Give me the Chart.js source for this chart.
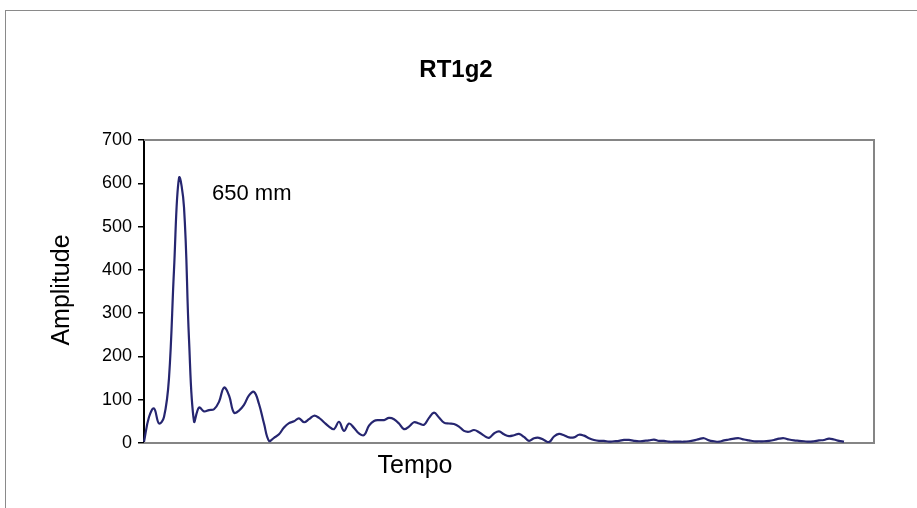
<!DOCTYPE html>
<html><head><meta charset="utf-8">
<script src="https://cdn.jsdelivr.net/npm/chart.js@4"></script>
<style>
html,body{margin:0;padding:0;background:#fff;}
#wrap{position:relative;width:917px;height:508px;overflow:hidden;}
#frame{position:absolute;left:5px;top:10px;width:920px;height:510px;border-left:1px solid #8a8a8a;border-top:1px solid #8a8a8a;}
canvas{position:absolute;left:0;top:0;}
</style></head><body>
<div id="wrap"><div id="frame"></div><canvas id="c" width="917" height="508"></canvas></div>
<script>
const chartTitle = 'RT1g2';
const xAxisTitle = 'Tempo';
const yAxisTitle = 'Amplitude';
const annotationText = '650 mm';
const yTicks = [0, 100, 200, 300, 400, 500, 600, 700];
const amplitude = [
  3, 60, 80, 45, 60, 150, 400, 612, 545, 240,
  50, 82, 73, 76, 78, 95, 128, 110, 70, 75,
  88, 110, 118, 90, 45, 5, 12, 20, 36, 46,
  50, 57, 48, 55, 63, 58, 48, 38, 32, 49,
  28, 45, 35, 22, 18, 40, 51, 53, 53, 58,
  55, 45, 32, 38, 48, 45, 42, 58, 70, 59,
  47, 45, 44, 38, 28, 26, 30, 25, 17, 12,
  22, 27, 20, 16, 18, 21, 14, 5, 11, 12,
  7, 2, 15, 21, 18, 13, 13, 19, 17, 11,
  7, 5, 5, 3, 4, 5, 7, 7, 5, 4,
  5, 6, 8, 5, 5, 3, 3, 3, 3, 4,
  6, 9, 11, 6, 4, 3, 6, 8, 10, 11,
  8, 6, 4, 4, 4, 5, 7, 10, 11, 8,
  6, 5, 4, 3, 4, 6, 7, 10, 8, 5,
  3, null, null, null, null, null, null
];
const timeSteps = amplitude.map((_, i) => String(i + 1));

const FONT = '"Liberation Sans", Arial, sans-serif';

const textPlugin = {
  id: 'texts',
  beforeDatasetsDraw(chart) {
    const {ctx, chartArea: a} = chart;
    ctx.save();
    ctx.strokeStyle = '#858585';
    ctx.lineWidth = 2;
    ctx.beginPath();
    ctx.moveTo(a.left, a.top); ctx.lineTo(a.right, a.top);
    ctx.lineTo(a.right, a.bottom); ctx.lineTo(a.left, a.bottom);
    ctx.stroke();
    ctx.restore();
  },
  afterDraw(chart) {
    const {ctx} = chart;
    ctx.save();
    ctx.fillStyle = '#000';
    ctx.textBaseline = 'middle';
    ctx.textAlign = 'center';
    ctx.font = 'bold 24px ' + FONT;
    ctx.fillText(chartTitle, 456, 70);
    ctx.textAlign = 'left';
    ctx.font = '22px ' + FONT;
    ctx.fillText(annotationText, 212, 194);
    ctx.textAlign = 'center';
    ctx.font = '25px ' + FONT;
    ctx.fillText(xAxisTitle, 415, 466);
    ctx.translate(62, 290);
    ctx.rotate(-Math.PI / 2);
    ctx.fillText(yAxisTitle, 0, 0);
    ctx.restore();
  }
};

new Chart(document.getElementById('c'), {
  type: 'line',
  data: {
    labels: timeSteps,
    datasets: [{
      data: amplitude,
      borderColor: '#262670',
      borderWidth: 2.2,
      pointRadius: 0,
      tension: 0.4,
      fill: false
    }]
  },
  options: {
    responsive: false,
    animation: false,
    devicePixelRatio: 1,
    layout: {padding: {left: 0, top: 140, right: 43, bottom: 65}},
    plugins: {
      legend: {display: false},
      tooltip: {enabled: false},
      title: {display: false}
    },
    scales: {
      x: {
        type: 'category',
        offset: false,
        grid: {display: false},
        ticks: {display: false},
        border: {display: false},
        afterFit(s) { s.height = 0; }
      },
      y: {
        min: 0, max: 700,
        afterBuildTicks(s) { s.ticks = yTicks.map(v => ({value: v})); },
        ticks: {color: '#000', font: {family: FONT, size: 18}, padding: 6},
        grid: {drawOnChartArea: false, drawTicks: true, tickLength: 6, color: '#000', lineWidth: 1.5},
        border: {display: true, color: '#000', width: 2},
        afterFit(s) { s.width = 144; }
      }
    }
  },
  plugins: [textPlugin]
});
</script>
</body></html>
